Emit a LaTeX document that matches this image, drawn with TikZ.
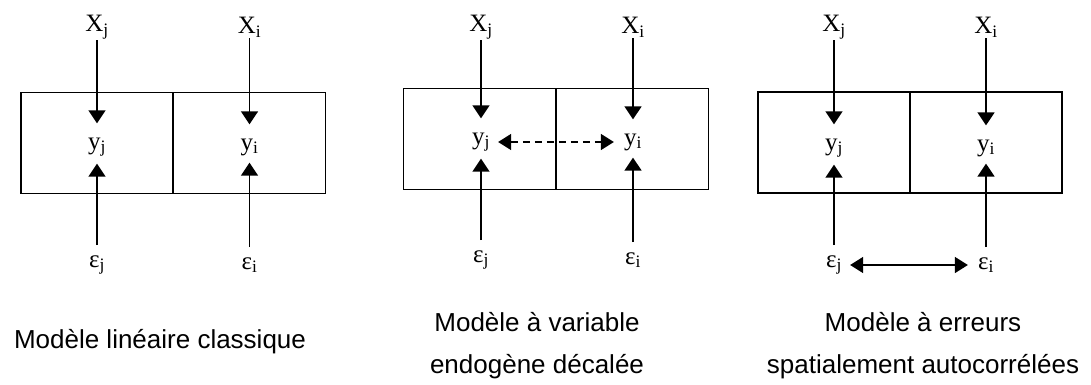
\documentclass[tikz,border=0pt]{standalone}
\usepackage{fontspec}
\setmainfont{Liberation Serif}
\newfontfamily\capfont{Liberation Sans}
\usetikzlibrary{arrows.meta,positioning}

\begin{document}
\begin{tikzpicture}[
  x=1pt,y=-1pt,
  cell/.style={draw=black,line width=1.4pt,rectangle,inner sep=0pt,
               minimum width=152pt,minimum height=101pt},
  var/.style={inner sep=0pt,font=\fontsize{25}{30}\selectfont},
  caption/.style={font=\capfont\fontsize{26}{42}\selectfont,align=center},
  down/.style={-{Triangle[width=17pt,length=13pt]},line width=1.4pt,
               shorten <=1pt,shorten >=14pt},
  up/.style={-{Triangle[width=17pt,length=13pt]},line width=1.4pt,
             shorten <=10pt,shorten >=7pt},
  link/.style={{Triangle[width=16pt,length=13pt]}-{Triangle[width=16pt,length=13pt]},
               line width=1.4pt,shorten <=8pt,shorten >=10pt}
]
\useasboundingbox (0,0) rectangle (1091,385);

% classical linear model
\node[cell] (c1j) at (97,143)    {};
\node[cell] (c1i) at (249.5,143) {};
\node[var] (x1j) at (97,27)     {X\textsubscript{j}};
\node[var] (x1i) at (249.5,27)  {X\textsubscript{i}};
\node[var] (y1j) at (97,147)    {y\textsubscript{j}};
\node[var] (y1i) at (249.5,147) {y\textsubscript{i}};
\node[var] (e1j) at (97,265)    {ε\textsubscript{j}};
\node[var] (e1i) at (249.5,265) {ε\textsubscript{i}};
\draw[down] (x1j) -- (y1j);
\draw[down] (x1i) -- (y1i);
\draw[up] (e1j) -- (y1j);
\draw[up] (e1i) -- (y1i);
\node[caption] (t1) at (160,342) {Modèle linéaire classique};

% spatial lag model
\node[cell] (c2j) at (479.5,139) {};
\node[cell] (c2i) at (632.5,139) {};
\node[var] (x2j) at (481,27)  {X\textsubscript{j}};
\node[var] (x2i) at (633,27)  {X\textsubscript{i}};
\node[var] (y2j) at (481,142) {y\textsubscript{j}};
\node[var] (y2i) at (633,142) {y\textsubscript{i}};
\node[var] (e2j) at (481,260) {ε\textsubscript{j}};
\node[var] (e2i) at (633,260) {ε\textsubscript{i}};
\draw[down] (x2j) -- (y2j);
\draw[down] (x2i) -- (y2i);
\draw[up] (e2j) -- (y2j);
\draw[up] (e2i) -- (y2i);
\draw[link,dash pattern=on 7pt off 5pt] (y2j) -- (y2i);
\node[caption] (t2) at (537,346) {Modèle à variable\\endogène décalée};

% spatial error model
\node[cell] (c3j) at (834,142.5) {};
\node[cell] (c3i) at (986,142.5) {};
\node[var] (x3j) at (834,27)  {X\textsubscript{j}};
\node[var] (x3i) at (986,27)  {X\textsubscript{i}};
\node[var] (y3j) at (834,148) {y\textsubscript{j}};
\node[var] (y3i) at (986,148) {y\textsubscript{i}};
\node[var] (e3j) at (834,265) {ε\textsubscript{j}};
\node[var] (e3i) at (986,265) {ε\textsubscript{i}};
\draw[down] (x3j) -- (y3j);
\draw[down] (x3i) -- (y3i);
\draw[up] (e3j) -- (y3j);
\draw[up] (e3i) -- (y3i);
\draw[link] (e3j) -- (e3i);
\node[caption] (t3) at (923,346) {Modèle à erreurs\\spatialement autocorrélées};
\end{tikzpicture}
\end{document}
